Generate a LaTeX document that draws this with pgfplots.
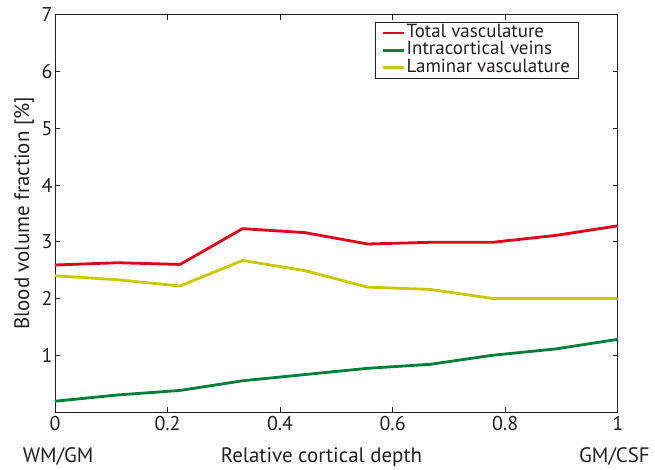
\documentclass[border=0pt]{standalone}
\usepackage{fontspec}
\setmainfont{PT Sans}
\usepackage{pgfplots}
\pgfplotsset{compat=1.18}

\definecolor{totred}{RGB}{226,0,26}
\definecolor{veingreen}{RGB}{0,128,55}
\definecolor{lamyellow}{RGB}{204,200,0}
\definecolor{inkgray}{RGB}{35,31,32}

\begin{document}
\begin{tikzpicture}
\useasboundingbox (-55bp,-57.3bp) rectangle (600bp,412bp);
\begin{axis}[
  at={(0,0)}, anchor=south west,
  scale only axis,
  clip=false,
  width=562.7bp, height=397.3bp,
  xmin=0, xmax=1, ymin=0, ymax=7,
  xtick={0,0.2,0.4,0.6,0.8,1},
  xticklabels={0,0.2,0.4,0.6,0.8,1},
  ytick={1,2,3,4,5,6,7},
  tick align=inside,
  major tick length=5bp,
  tick style={inkgray, line width=0.6pt},
  axis line style={inkgray, line width=0.9pt},
  every tick label/.append style={font=\fontsize{20}{22}\selectfont, text=inkgray},
  xticklabel style={yshift=-1bp},
  yticklabel style={xshift=1bp},
  /pgf/number format/assume math mode=true,
  ylabel={Blood volume fraction [\%]},
  ylabel style={font=\fontsize{21}{24}\selectfont, text=inkgray, at={(axis description cs:-0.037,0.5)}, anchor=south, inner sep=0pt},
  xlabel={Relative cortical depth},
  xlabel style={font=\fontsize{21}{24}\selectfont, text=inkgray, at={(axis description cs:0.4736,-0.1266)}, anchor=base},
  legend style={at={(0.568,0.982)}, anchor=north west, draw=inkgray, line width=0.6pt,
    font=\fontsize{19}{19}\selectfont, text=inkgray,
    row sep=0pt, inner xsep=7bp, inner ysep=2bp,
    nodes={text height=12bp, text depth=3.5bp, inner sep=1pt}},
  legend cell align=left,
  legend image code/.code={\draw[#1, line width=2.8bp] (0bp,0bp) -- (21bp,0bp);},
  every axis plot/.append style={line width=2.8bp, line join=round},
]
\addplot[totred] coordinates {
  (0,2.59) (0.1111,2.63) (0.2222,2.60) (0.3333,3.23) (0.4444,3.16)
  (0.5556,2.96) (0.6667,2.99) (0.7778,2.99) (0.8889,3.11) (1,3.28)};
\addlegendentry{Total vasculature}
\addplot[veingreen] coordinates {
  (0,0.19) (0.1111,0.30) (0.2222,0.38) (0.3333,0.55) (0.4444,0.66)
  (0.5556,0.77) (0.6667,0.84) (0.7778,1.00) (0.8889,1.11) (1,1.28)};
\addlegendentry{Intracortical veins}
\addplot[lamyellow] coordinates {
  (0,2.40) (0.1111,2.33) (0.2222,2.22) (0.3333,2.67) (0.4444,2.49)
  (0.5556,2.20) (0.6667,2.16) (0.7778,2.00) (0.8889,2.00) (1,2.00)};
\addlegendentry{Laminar vasculature}
\node[font=\fontsize{21}{24}\selectfont, text=inkgray, anchor=base west, inner sep=0pt]
  at (axis description cs:-0.0574,-0.1266) {WM/GM};
\node[font=\fontsize{21}{24}\selectfont, text=inkgray, anchor=base east, inner sep=0pt]
  at (axis description cs:1.0574,-0.1266) {GM/CSF};
\end{axis}
\end{tikzpicture}
\end{document}
